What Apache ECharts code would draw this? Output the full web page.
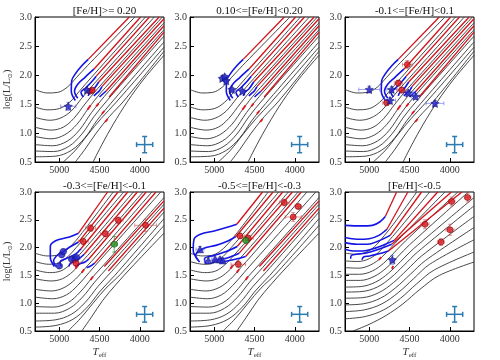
<!DOCTYPE html>
<html><head><meta charset="utf-8">
<script src="https://cdn.jsdelivr.net/npm/echarts@6/dist/echarts.min.js"></script>
<style>html,body{margin:0;padding:0;background:#fff}#c{width:500px;height:360px}</style>
</head><body><div id="c"></div>
<script>
const TITLES = ['[Fe/H]>= 0.20','0.10<=[Fe/H]<0.20','-0.1<=[Fe/H]<0.1','-0.3<=[Fe/H]<-0.1','-0.5<=[Fe/H]<-0.3','[Fe/H]<-0.5'];
const X_TICKS = [5000, 4500, 4000];
const Y_TICKS = [0.5, 1.0, 1.5, 2.0, 2.5, 3.0];
const X_RANGE = [3700, 5300];
const Y_RANGE = [0.5, 3.0];

// ---- evolutionary tracks, group A (panels 1-3) ----
const BLACK_A = [
 [[5300,1.75],[5150,1.69],[5020,1.70],[4900,1.79],[4790,1.95],[4650,2.16],[4060,3.0]],
 [[5300,1.45],[5150,1.40],[5000,1.42],[4870,1.53],[4750,1.72],[4600,1.96],[3930,3.0]],
 [[5300,1.27],[5120,1.22],[4980,1.26],[4850,1.38],[4720,1.60],[4560,1.86],[3820,3.0]],
 [[5300,1.10],[5100,1.05],[4950,1.10],[4820,1.25],[4680,1.50],[4520,1.77],[3720,3.0]],
 [[5300,0.94],[5100,0.90],[4930,0.97],[4780,1.15],[4640,1.42],[4480,1.70],[3700,2.90]],
 [[5300,0.80],[5080,0.78],[4900,0.86],[4750,1.05],[4600,1.35],[4440,1.63],[3700,2.78]],
 [[5300,0.69],[5070,0.68],[4880,0.77],[4720,0.98],[4570,1.28],[4400,1.57],[3700,2.67]],
 [[5300,0.59],[5050,0.60],[4850,0.70],[4680,0.92],[4530,1.22],[4360,1.51],[3700,2.57]],
 [[4950,0.50],[4800,0.70],[4640,0.98],[4480,1.25],[4300,1.52],[3700,2.48]],
 [[4800,0.50],[4680,0.72],[4540,1.00],[4380,1.28],[4200,1.55],[3700,2.41]],
 [[4580,0.50],[4470,0.80],[4330,1.15],[4150,1.55],[3950,1.93],[3700,2.34]]
];
const RED_A = [
 [[4640,2.27],[4130,3.0]],
 [[4570,2.10],[3990,3.0]],
 [[4540,1.98],[3880,3.0]],
 [[4510,1.88],[3760,3.0]],
 [[4470,1.80],[3700,2.97]],
 [[4420,1.72],[3700,2.85]],
 [[4380,1.62],[3700,2.74]]
];
const BLUE_A = [
 [[4800,1.56],[4850,1.72],[4845,1.90],[4800,2.02],[4720,2.16],[4640,2.27]],
 [[4770,1.60],[4810,1.72],[4770,1.84],[4680,1.96],[4570,2.10]],
 [[4700,1.62],[4730,1.70],[4670,1.78],[4600,1.88],[4540,1.98]],
 [[4640,1.64],[4620,1.70],[4570,1.76],[4510,1.88]],
 [[4570,1.64],[4540,1.68],[4500,1.73],[4470,1.80]],
 [[4500,1.62],[4470,1.66],[4420,1.72]]
];
const DASH_A = [
 [[4650,1.40],[4610,1.48]],
 [[4540,1.46],[4510,1.51]],
 [[4470,1.33],[4440,1.38]],
 [[4430,1.19],[4400,1.24]]
];

// ---- group B (panels 4-5) ----
const BLACK_B = [
 [[5300,1.90],[5150,1.85],[5030,1.86],[4930,1.93],[4840,2.05],[4740,2.22],[4330,3.0]],
 [[5300,1.75],[5130,1.70],[5000,1.73],[4890,1.84],[4790,2.00],[4680,2.18],[4200,3.0]],
 [[5300,1.60],[5120,1.55],[4980,1.58],[4860,1.70],[4750,1.87],[4640,2.05],[4080,3.0]],
 [[5300,1.44],[5100,1.40],[4960,1.44],[4830,1.57],[4710,1.76],[4590,1.95],[3960,3.0]],
 [[5300,1.25],[5100,1.22],[4940,1.28],[4800,1.43],[4670,1.64],[4540,1.85],[3850,3.0]],
 [[5300,1.11],[5080,1.08],[4910,1.15],[4770,1.32],[4630,1.55],[4490,1.78],[3740,3.0]],
 [[5300,0.94],[5070,0.93],[4890,1.01],[4740,1.20],[4590,1.46],[4440,1.70],[3700,2.90]],
 [[5300,0.82],[5060,0.82],[4870,0.91],[4710,1.11],[4560,1.38],[4400,1.64],[3700,2.78]],
 [[5300,0.68],[5050,0.70],[4850,0.80],[4680,1.01],[4520,1.30],[4350,1.57],[3700,2.64]],
 [[5300,0.57],[5040,0.60],[4830,0.71],[4650,0.93],[4490,1.22],[4310,1.50],[3700,2.52]],
 [[4890,0.50],[4740,0.72],[4580,1.00],[4420,1.27],[4240,1.52],[3700,2.40]],
 [[4720,0.50],[4600,0.75],[4460,1.05],[4300,1.33],[4100,1.65],[3700,2.26]]
];
const RED_B4 = [
 [[4760,2.26],[4400,3.0]],
 [[4760,2.10],[4270,3.0]],
 [[4730,1.98],[4150,3.0]],
 [[4690,1.88],[4030,3.0]],
 [[4630,1.80],[3920,3.0]],
 [[4560,1.72],[3800,3.0]],
 [[4440,1.66],[3700,2.84]],
 [[4390,1.58],[3700,2.71]]
];
const BLUE_B4 = [
 [[5060,1.66],[5110,1.82],[5110,2.02],[5050,2.12],[4900,2.18],[4760,2.26]],
 [[5040,1.66],[5070,1.76],[5010,1.88],[4900,1.98],[4760,2.10]],
 [[4980,1.67],[4990,1.74],[4920,1.80],[4800,1.88],[4730,1.98]],
 [[4880,1.66],[4860,1.72],[4780,1.77],[4690,1.88]],
 [[4800,1.66],[4760,1.70],[4680,1.74],[4630,1.80]],
 [[4660,1.64],[4620,1.66],[4560,1.72]]
];
const RED_B5 = [
 [[4720,2.42],[4400,3.0]],
 [[4730,2.20],[4270,3.0]],
 [[4715,2.02],[4150,3.0]],
 [[4690,1.90],[4030,3.0]],
 [[4610,1.84],[3920,3.0]],
 [[4440,1.66],[3700,2.84]],
 [[4390,1.58],[3700,2.71]]
];
const BLUE_B5 = [
 [[5200,1.78],[5260,1.95],[5250,2.15],[5170,2.24],[5000,2.30],[4850,2.36],[4720,2.42]],
 [[5180,1.74],[5230,1.86],[5140,1.98],[4980,2.04],[4830,2.12],[4730,2.20]],
 [[5110,1.72],[5120,1.80],[5000,1.86],[4850,1.93],[4715,2.02]],
 [[5020,1.72],[4980,1.78],[4850,1.81],[4690,1.90]],
 [[4920,1.72],[4870,1.75],[4740,1.79],[4610,1.84]]
];
const DASH_B = [
 [[4800,1.62],[4770,1.68]],
 [[4720,1.55],[4690,1.61]],
 [[4610,1.42],[4580,1.48]]
];

// ---- group C (panel 6) ----
const BLACK_C = [
 [[5300,1.90],[5150,1.88],[5020,1.93],[4910,2.05],[4810,2.22],[4700,2.42],[4410,3.0]],
 [[5300,1.76],[5140,1.75],[5000,1.80],[4880,1.92],[4770,2.10],[4650,2.30],[4250,3.0]],
 [[5300,1.64],[5130,1.63],[4980,1.69],[4850,1.82],[4730,2.00],[4600,2.20],[4060,3.0]],
 [[5300,1.52],[5120,1.52],[4960,1.58],[4820,1.72],[4690,1.91],[4550,2.12],[3900,3.0]],
 [[5300,1.41],[5110,1.41],[4940,1.48],[4790,1.63],[4650,1.83],[4500,2.05],[3770,3.0]],
 [[5300,1.29],[5100,1.30],[4920,1.38],[4760,1.54],[4610,1.75],[4450,1.98],[3700,2.90]],
 [[5300,1.20],[5090,1.21],[4900,1.29],[4730,1.46],[4570,1.68],[4400,1.92],[3700,2.75]],
 [[5300,1.09],[5080,1.10],[4880,1.19],[4700,1.37],[4530,1.60],[4350,1.85],[3700,2.56]],
 [[5300,0.97],[5070,0.99],[4860,1.09],[4670,1.28],[4490,1.52],[4300,1.77],[3700,2.36]],
 [[5300,0.85],[5060,0.88],[4840,0.99],[4640,1.19],[4450,1.44],[4250,1.70],[3700,2.14]],
 [[5300,0.72],[5050,0.76],[4820,0.88],[4610,1.09],[4410,1.35],[4190,1.60],[3700,1.92]],
 [[5200,0.50],[5000,0.62],[4790,0.78],[4580,0.99],[4370,1.25],[4130,1.50],[3700,1.74]]
];
const RED_C = [
 [[4800,2.56],[4660,3.0]],
 [[4780,2.33],[4520,3.0]],
 [[4740,2.22],[4350,3.0]],
 [[4690,2.13],[4150,3.0]],
 [[4720,2.06],[3980,3.0]],
 [[4760,1.94],[3850,3.0]]
];
const BLUE_C = [
 [[5300,2.40],[5100,2.39],[4960,2.40],[4870,2.46],[4800,2.56]],
 [[5300,2.18],[5150,2.15],[5000,2.16],[4880,2.22],[4780,2.33]],
 [[5300,2.09],[5150,2.06],[5020,2.06],[4900,2.11],[4740,2.22]],
 [[5300,1.97],[5200,1.94],[5080,1.94],[4950,1.98],[4800,2.06],[4690,2.13]],
 [[5230,1.80],[5220,1.86],[5160,1.88],[5050,1.90],[4900,1.96],[4720,2.06]],
 [[5090,1.78],[5070,1.83],[5000,1.85],[4880,1.89],[4760,1.94]]
];
const DASH_C = [
 [[4880,1.78],[4850,1.83]],
 [[4720,1.62],[4700,1.67]]
];

// ---- observed stars: [Teff, logL, errTeff, errLogL] ----
const RED_1 = [[4618,1.72,30,0.03],[4590,1.74,30,0.03]];
const BSTAR_1 = [[4887,1.46,95,0.07],[4655,1.74,30,0.03]];
const BSTAR_2 = [[4900,1.94,30,0.04],[4870,1.97,30,0.04],[4850,1.90,25,0.03],[4780,1.75,25,0.03],[4650,1.72,25,0.03]];
const RED_3 = [[4527,2.18,60,0.07],[4639,1.86,50,0.05],[4597,1.74,50,0.05],[4783,1.52,50,0.04]];
const BSTAR_3 = [[4999,1.75,130,0.06],[4721,1.75,60,0.05],[4515,1.69,60,0.05],[4424,1.63,50,0.05],[4742,1.56,70,0.05],[4184,1.51,110,0.05]];
const BCIRC_4 = [[4999,1.67,40,0.05],[4969,1.87,40,0.05],[4949,1.93,40,0.05],[4845,1.79,40,0.05],[4804,1.79,40,0.05],[4783,1.82,40,0.05]];
const RED_4 = [[4792,1.72,50,0.05],[4701,2.11,60,0.06],[4610,2.35,60,0.06],[4428,2.25,60,0.06],[4267,2.49,60,0.06],[3928,2.40,135,0.11]];
const GREEN_4 = [[4317,2.06,40,0.14]];
const BTRI_5 = [[5176,1.97,50,0.05],[5073,1.77,50,0.05],[4990,1.79,40,0.04],[4928,1.79,40,0.04],[4895,1.77,40,0.04]];
const RED_5 = [[4680,2.21,60,0.05],[4577,2.17,60,0.05],[4701,1.70,90,0.06],[4131,2.81,60,0.06],[4020,2.55,100,0.08],[3958,2.74,40,0.04]];
const GREEN_5 = [[4606,2.13,40,0.06]];
const RED_6 = [[4308,2.42,50,0.08],[4110,2.10,40,0.06],[3998,2.32,50,0.10],[3977,2.83,40,0.08],[3779,2.90,40,0.08]];
const BSTAR_6 = [[4713,1.78,30,0.08]];
// typical error cross
const ERR_CROSS = [[3940,0.80,100,0.14]];

// ---------------- build -----------------
const GRID_LEFT = [35, 190, 345];
const GRID_TOP = [17, 192];
const GW = 129, GH = 145;
const SERIF = 'Liberation Serif';
const STAR = 'path://M0,-10L2.94,-4.05L9.51,-3.09L4.76,1.55L5.88,8.09L0,5L-5.88,8.09L-4.76,1.55L-9.51,-3.09L-2.94,-4.05Z';

const PANELS = [
  {black:BLACK_A, red:RED_A, blue:BLUE_A, dash:DASH_A, pts:[['red',RED_1],['bstar',BSTAR_1]]},
  {black:BLACK_A, red:RED_A, blue:BLUE_A, dash:DASH_A, pts:[['bstar',BSTAR_2]]},
  {black:BLACK_A, red:RED_A, blue:BLUE_A, dash:DASH_A, pts:[['red',RED_3],['bstar',BSTAR_3]]},
  {black:BLACK_B, red:RED_B4, blue:BLUE_B4, dash:DASH_B, pts:[['bcirc',BCIRC_4],['red',RED_4],['green',GREEN_4]]},
  {black:BLACK_B, red:RED_B5, blue:BLUE_B5, dash:DASH_B, pts:[['btri',BTRI_5],['red',RED_5],['green',GREEN_5]]},
  {black:BLACK_C, red:RED_C, blue:BLUE_C, dash:DASH_C, pts:[['red',RED_6],['bstar',BSTAR_6]]}
];
const MARK = {
  red:   {symbol:'circle', size:6, color:'#dc1c22', border:'#6e0000', err:'rgba(215,70,70,0.55)'},
  bstar: {symbol:STAR, size:8, color:'#2222c8', border:'#10106a', err:'rgba(90,90,225,0.55)'},
  bcirc: {symbol:'circle', size:6, color:'#2727cf', border:'#10106a', err:'rgba(90,90,225,0.55)'},
  btri:  {symbol:'triangle', size:7, color:'#2727cf', border:'#10106a', err:'rgba(90,90,225,0.55)'},
  green: {symbol:'circle', size:6, color:'#2f9a2f', border:'#104a10', err:'rgba(40,140,40,0.7)'}
};

function lines(g, tracks, color, width, z, smooth){
  return tracks.map(t => ({type:'line', xAxisIndex:g, yAxisIndex:g, data:t, symbol:'none', showSymbol:false,
    smooth:smooth, lineStyle:{color:color, width:width}, z:z, silent:true, animation:false}));
}
function errs(g, pts, color, lw, cap){
  return {type:'custom', xAxisIndex:g, yAxisIndex:g, data:pts, z:6, silent:true, animation:false,
    renderItem:function(params, api){
      const x=api.value(0), y=api.value(1), dx=api.value(2), dy=api.value(3);
      const st={stroke:color, lineWidth:lw, fill:null};
      const ch=[];
      if(dx>0){
        const l=api.coord([x+dx,y]), r=api.coord([x-dx,y]);
        ch.push({type:'line', shape:{x1:l[0],y1:l[1],x2:r[0],y2:r[1]}, style:st});
        ch.push({type:'line', shape:{x1:l[0],y1:l[1]-cap,x2:l[0],y2:l[1]+cap}, style:st});
        ch.push({type:'line', shape:{x1:r[0],y1:r[1]-cap,x2:r[0],y2:r[1]+cap}, style:st});
      }
      if(dy>0){
        const t=api.coord([x,y+dy]), b=api.coord([x,y-dy]);
        ch.push({type:'line', shape:{x1:t[0],y1:t[1],x2:b[0],y2:b[1]}, style:st});
        ch.push({type:'line', shape:{x1:t[0]-cap,y1:t[1],x2:t[0]+cap,y2:t[1]}, style:st});
        ch.push({type:'line', shape:{x1:b[0]-cap,y1:b[1],x2:b[0]+cap,y2:b[1]}, style:st});
      }
      return {type:'group', children:ch};
    }};
}

const grids=[], xAxes=[], yAxes=[], titles=[], series=[];
for(let i=0;i<6;i++){
  const col=i%3, row=Math.floor(i/3);
  grids.push({left:GRID_LEFT[col], top:GRID_TOP[row], width:GW, height:GH, show:true, borderColor:'#000', borderWidth:1, backgroundColor:'transparent'});
  titles.push({text:TITLES[i], left:GRID_LEFT[col]+GW/2, top:GRID_TOP[row]-16, textAlign:'center',
    textStyle:{fontFamily:SERIF, fontSize:11, fontWeight:'normal', color:'#111'}});
  const xa = {gridIndex:i, type:'value', inverse:true, min:X_RANGE[0], max:X_RANGE[1],
    axisLine:{show:true, onZero:false, lineStyle:{color:'#000', width:1}},
    axisTick:{show:true, inside:true, length:4, customValues:X_TICKS, lineStyle:{color:'#000'}},
    axisLabel:{customValues:X_TICKS, fontFamily:SERIF, fontSize:10, color:'#333', margin:3, formatter:v=>String(Math.round(v))},
    splitLine:{show:false}};
  if(row===1){
    xa.name='{t|T}{s|eff}'; xa.nameLocation='middle'; xa.nameGap=15;
    xa.nameTextStyle={rich:{t:{fontFamily:SERIF, fontStyle:'italic', fontSize:11, color:'#333'},
      s:{fontFamily:SERIF, fontSize:7, color:'#333', padding:[6,0,0,0]}}};
  }
  xAxes.push(xa);
  const ya = {gridIndex:i, type:'value', min:Y_RANGE[0], max:Y_RANGE[1], interval:0.5,
    axisLine:{show:true, onZero:false, lineStyle:{color:'#000', width:1}},
    axisTick:{show:true, inside:true, length:4, lineStyle:{color:'#000'}},
    axisLabel:{fontFamily:SERIF, fontSize:10, color:'#333', margin:3, formatter:v=>v.toFixed(1)},
    splitLine:{show:false}};
  if(col===0){
    ya.name='{a|log(L/L}{b|⊙}{a|)}'; ya.nameLocation='middle'; ya.nameRotate=90; ya.nameGap=22;
    ya.nameTextStyle={rich:{a:{fontFamily:SERIF, fontSize:10, color:'#333'},
      b:{fontFamily:'DejaVu Sans', fontSize:6, color:'#333', padding:[5,0,0,0]}}};
  }
  yAxes.push(ya);
  const p=PANELS[i];
  series.push(...lines(i, p.black, '#333333', 0.9, 2, 0.35));
  series.push(...lines(i, p.red, '#d0121b', 1.3, 3, false));
  series.push(...lines(i, p.blue, '#1414e6', 1.6, 4, 0.35));
  series.push(...lines(i, p.dash, '#e0141c', 1.8, 4, false));
  p.pts.forEach(([k,arr])=>{
    const m=MARK[k];
    series.push(errs(i, arr, m.err, 1.0, 2));
    series.push({type:'scatter', xAxisIndex:i, yAxisIndex:i, data:arr, symbol:m.symbol, symbolSize:m.size,
      itemStyle:{color:m.color, borderColor:m.border, borderWidth:0.7}, z:7, silent:true, animation:false});
  });
  series.push(errs(i, ERR_CROSS, '#2b7bb0', 1.5, 2.5));
}

const chart = echarts.init(document.getElementById('c'), null, {renderer:'canvas'});
chart.setOption({animation:false, backgroundColor:'#fff', title:titles, grid:grids, xAxis:xAxes, yAxis:yAxes, series:series});
</script></body></html>
